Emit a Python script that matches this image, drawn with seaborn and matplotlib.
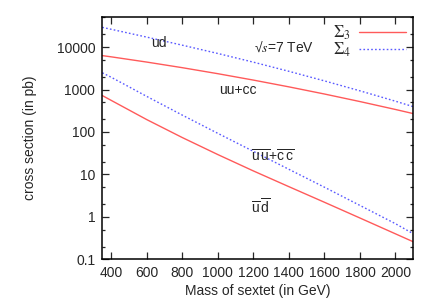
import numpy as np
import pandas as pd
import matplotlib
matplotlib.use("Agg")
import matplotlib.pyplot as plt
import matplotlib.ticker as mticker
import seaborn as sns

# masses (GeV) and cross sections (pb)
mass = [350, 400, 600, 800, 1000, 1200, 1400, 1600, 1800, 2000, 2100]
sig4_ud = [29200, 26300, 17200, 11100, 7080, 4420, 2690, 1600, 933, 531, 395]
sig3_uucc = [6300, 5900, 4440, 3275, 2364, 1671, 1157, 785, 521, 339, 271]
sig4_ububcc = [2480, 1950, 690, 250, 93, 35, 13.2, 5.0, 1.86, 0.69, 0.40]
sig3_ubdb = [722, 556, 196, 74, 29.4, 12.1, 5.15, 2.21, 0.94, 0.398, 0.259]

red = "#ff5a5a"
blue = "#5a5aff"

sns.set_style("ticks")
plt.rcParams["font.family"] = ["Liberation Sans", "DejaVu Sans"]
plt.rcParams["mathtext.fontset"] = "dejavusans"

n = len(mass)
df = pd.DataFrame({"mass": mass * 4,
                   "xsec": sig4_ud + sig3_uucc + sig4_ububcc + sig3_ubdb,
                   "curve": ["ud"] * n + ["uucc"] * n + ["ububcc"] * n + ["ubdb"] * n})

fig = plt.figure(figsize=(4.34, 3.05), dpi=100)
ax = fig.add_axes([0.2357, 0.1498, 0.7165, 0.7954])

dotted = (0, (1.2, 1.6))
sns.lineplot(data=df[df.curve == "uucc"], x="mass", y="xsec", ax=ax, color=red, lw=1.0,
             label=r"$\Sigma_3$")
sns.lineplot(data=df[df.curve == "ud"], x="mass", y="xsec", ax=ax, color=blue, lw=1.0,
             linestyle=dotted, label=r"$\Sigma_4$")
sns.lineplot(data=df[df.curve == "ubdb"], x="mass", y="xsec", ax=ax, color=red, lw=1.0,
             legend=False)
sns.lineplot(data=df[df.curve == "ububcc"], x="mass", y="xsec", ax=ax, color=blue, lw=1.0,
             linestyle=dotted, legend=False)

ax.set_yscale("log")
ax.set_xlim(350, 2100)
ax.set_ylim(0.1, 52000)
ax.set_xticks(range(400, 2001, 200))
ax.yaxis.set_major_locator(mticker.FixedLocator([0.1, 1, 10, 100, 1000, 10000]))
ax.yaxis.set_major_formatter(mticker.FuncFormatter(lambda v, p: f"{v:g}"))
ax.yaxis.set_minor_locator(mticker.LogLocator(base=10, subs=(2, 5)))
ax.yaxis.set_minor_formatter(mticker.NullFormatter())
ax.tick_params(which="both", direction="in", top=True, right=True, labelsize=10, width=0.9)
ax.tick_params(which="major", length=5, pad=5)
ax.tick_params(which="minor", length=2.5)
for s in ax.spines.values():
    s.set_linewidth(1.1)
    s.set_color("black")

ax.set_xlabel("Mass of sextet (in GeV)", fontsize=10, labelpad=3)
ax.set_ylabel("cross section (in pb)", fontsize=10, labelpad=14)

ax.text(670, 12800, "ud", fontsize=10, ha="center", va="center")
ax.text(1115, 1000, "uu+cc", fontsize=10, ha="center", va="center")
ax.text(1370, 10000, r"√$s$=7 TeV", fontsize=10, ha="center", va="center", math_fontfamily="stix")
ax.text(1310, 26, r"$\mathregular{\overline{u}\,\overline{u}}$+$\mathregular{\overline{c}\,\overline{c}}$",
        fontsize=10, ha="center", va="center")
ax.text(1245, 1.75, r"$\mathregular{\overline{u}\,\overline{d}}$", fontsize=10, ha="center", va="center")

leg = ax.legend(loc="upper right", bbox_to_anchor=(1.02, 1.025), frameon=False, markerfirst=False,
                handlelength=2.8, handletextpad=0.5, labelspacing=-0.1, fontsize=12, borderpad=0.3)
for t in leg.get_texts():
    t.set_math_fontfamily("stix")

fig.savefig("out.png", dpi=100)
